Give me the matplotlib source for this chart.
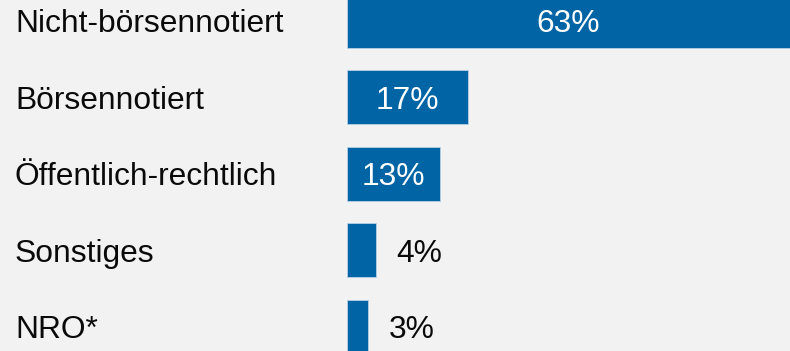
import matplotlib.pyplot as plt
import matplotlib.transforms as mtransforms

# share of organisations by legal form
categories = ["Nicht-börsennotiert", "Börsennotiert", "Öffentlich-rechtlich", "Sonstiges", "NRO*"]
shares = [63, 17, 13, 4, 3]

BLUE = "#0064a5"
BG = "#f2f2f2"
FS = 22.9

plt.rcParams['font.family'] = ['Liberation Sans', 'DejaVu Sans']

fig = plt.figure(figsize=(7.9, 3.51), dpi=100, facecolor=BG)
ax = fig.add_axes([347 / 790, 0, 1 - 347 / 790, 1])
ax.set_facecolor(BG)

pos = list(range(len(categories)))
ax.barh(pos, shares, height=0.712, color=BLUE, edgecolor="#b8d0e4", linewidth=0.6)

ax.set_xlim(0, 62.1)
ax.set_ylim(4.317, -0.271)
ax.axis("off")

# category names at the left edge of the figure
trans = mtransforms.blended_transform_factory(fig.transFigure, ax.transData)
for p, name in zip(pos, categories):
    ax.text(15 / 790, p, name, transform=trans, ha="left", va="center_baseline",
            fontsize=FS, color="#0a0a0a")

# value labels: inside the bar when it is wide enough, otherwise beside it
xmax = ax.get_xlim()[1]
for p, v in zip(pos, shares):
    label = f"{v}%"
    if v >= 10:
        ax.text(min(v, xmax) / 2, p, label, ha="center", va="center_baseline",
                fontsize=FS, color="white")
    else:
        ax.annotate(label, (v, p), xytext=(15, 0), textcoords="offset points",
                    ha="left", va="center_baseline", fontsize=FS, color="#0a0a0a")

fig.savefig("out.png", dpi=100, facecolor=BG)
